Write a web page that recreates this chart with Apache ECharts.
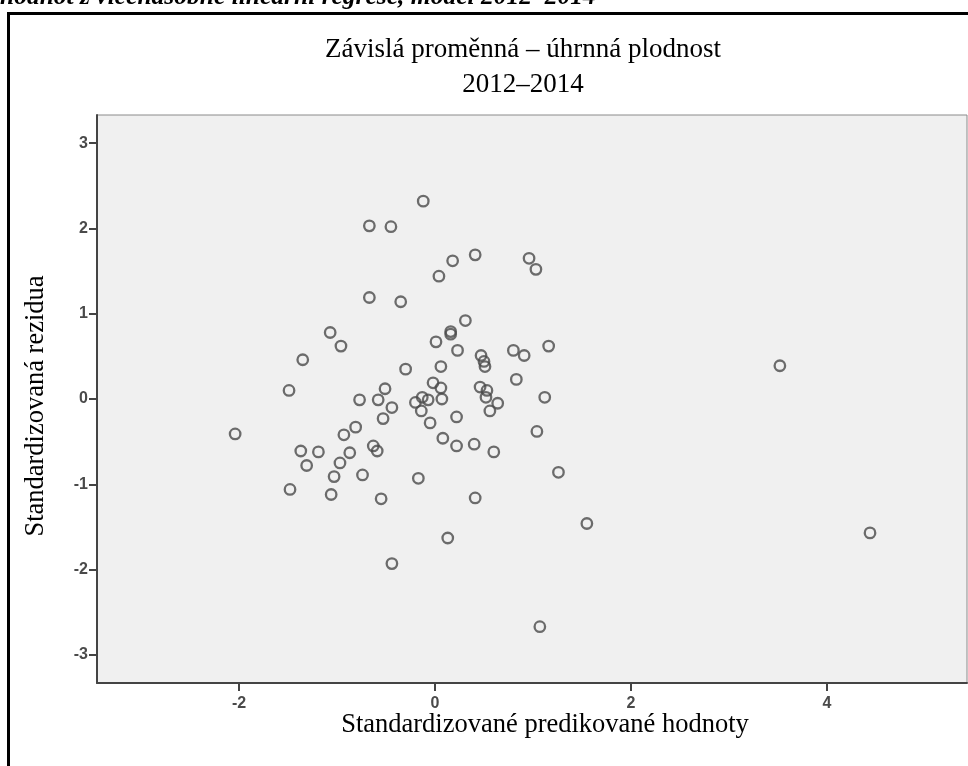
<!DOCTYPE html>
<html>
<head>
<meta charset="utf-8">
<script src="https://cdn.jsdelivr.net/npm/echarts@6/dist/echarts.min.js"></script>
<style>
html,body{margin:0;padding:0;background:#fff;}
#chart{width:968px;height:766px;}
</style>
</head>
<body>
<div id="chart"></div>
<script>
// Standardized predicted values (x) and standardized residuals (y)
const predicted = [
 -0.12, -0.67, -0.45, 0.18, 0.41, 0.04, 0.96, 1.03, -0.67, -0.35,
 -1.07, -0.96, -1.35, -1.49, -0.51, -0.77, -0.58, -0.44, -0.53, -2.04,
 -0.81, -0.93, -0.63, -0.59, -1.37, -1.19, -0.87, -1.31, -0.97, -1.03,
 -0.74, -1.48, -1.06, -0.55, 0.31, 0.16, 0.16, 0.01, 0.23, 0.80,
 0.91, 1.16, 0.47, 0.50, 0.51, -0.30, 0.06, 0.83, -0.02, 0.06,
 0.46, 0.53, -0.13, -0.20, -0.07, 0.07, 0.52, 1.12, 0.64, -0.14,
 0.56, -0.05, 0.22, 1.04, 0.08, 0.22, 0.40, 0.60, 1.26, -0.17,
 0.41, 0.13, -0.44, 1.07, 1.55, 3.52, 4.44
];
const residuals = [
 2.32, 2.03, 2.02, 1.62, 1.69, 1.44, 1.65, 1.52, 1.19, 1.14,
 0.78, 0.62, 0.46, 0.10, 0.12, -0.01, -0.01, -0.10, -0.23, -0.41,
 -0.33, -0.42, -0.55, -0.61, -0.61, -0.62, -0.63, -0.78, -0.75, -0.91,
 -0.89, -1.06, -1.12, -1.17, 0.92, 0.79, 0.76, 0.67, 0.57, 0.57,
 0.51, 0.62, 0.51, 0.44, 0.38, 0.35, 0.38, 0.23, 0.19, 0.13,
 0.14, 0.10, 0.02, -0.04, -0.01, 0.00, 0.02, 0.02, -0.05, -0.14,
 -0.14, -0.28, -0.21, -0.38, -0.46, -0.55, -0.53, -0.62, -0.86, -0.93,
 -1.16, -1.63, -1.93, -2.67, -1.46, 0.39, -1.57
];
const xTicks = [-2, 0, 2, 4];
const yTicks = [-3, -2, -1, 0, 1, 2, 3];
const titleLine1 = 'Závislá proměnná – úhrnná plodnost';
const titleLine2 = '2012–2014';
const captionText = 'hodnot z vícenásobné lineární regrese, model 2012–2014';
const xName = 'Standardizované predikované hodnoty';
const yName = 'Standardizovaná rezidua';

const points = predicted.map((x, i) => [x, residuals[i]]);
const chart = echarts.init(document.getElementById('chart'), null, {renderer: 'canvas'});
const serif = '"Liberation Serif", "Times New Roman", serif';

function tickLabel(margin, vals) {
  return {
    margin: margin,
    customValues: vals,
    fontFamily: 'Liberation Sans',
    fontSize: 16,
    fontWeight: 'bold',
    color: '#4a4a4a'
  };
}

chart.setOption({
  animation: false,
  backgroundColor: '#ffffff',
  grid: {left: 97, right: 1, top: 115, bottom: 83, show: true, backgroundColor: '#f0f0f0', borderColor: '#8a8a8a', borderWidth: 1},
  xAxis: {
    type: 'value', min: -3.45, max: 5.43,
    axisLine: {show: true, onZero: false, lineStyle: {color: '#444', width: 2}},
    axisTick: {show: true, length: 8, customValues: xTicks, lineStyle: {color: '#444', width: 2}},
    axisLabel: tickLabel(13, xTicks),
    splitLine: {show: false}
  },
  yAxis: {
    type: 'value', min: -3.33, max: 3.33,
    axisLine: {show: true, onZero: false, lineStyle: {color: '#444', width: 2}},
    axisTick: {show: true, length: 8, customValues: yTicks, lineStyle: {color: '#444', width: 2}},
    axisLabel: tickLabel(9, yTicks),
    splitLine: {show: false}
  },
  series: [{
    type: 'scatter',
    data: points,
    symbol: 'circle',
    symbolSize: 10.5,
    silent: true,
    itemStyle: {color: 'rgba(0,0,0,0)', borderColor: '#4a4a4a', borderWidth: 2.3}
  }],
  graphic: [
    {type: 'rect', z: 100, silent: true, shape: {x: 8.5, y: 13.5, width: 1100, height: 900},
      style: {fill: 'none', stroke: '#000', lineWidth: 3}},
    {type: 'text', z: 100, x: 0, y: -16, silent: true,
      style: {text: captionText, font: 'italic bold 25.5px ' + serif, fill: '#000', verticalAlign: 'top'}},
    {type: 'text', z: 100, x: 523, y: 50, silent: true,
      style: {text: titleLine1, font: '27px ' + serif, fill: '#000', align: 'center', verticalAlign: 'middle'}},
    {type: 'text', z: 100, x: 523, y: 85, silent: true,
      style: {text: titleLine2, font: '27px ' + serif, fill: '#000', align: 'center', verticalAlign: 'middle'}},
    {type: 'text', z: 100, x: 545, y: 725, silent: true,
      style: {text: xName, font: '26.5px ' + serif, fill: '#000', align: 'center', verticalAlign: 'middle'}},
    {type: 'text', z: 100, x: 36, y: 406, rotation: Math.PI / 2, silent: true,
      style: {text: yName, font: '26.5px ' + serif, fill: '#000', align: 'center', verticalAlign: 'middle'}}
  ]
});
</script>
</body>
</html>
